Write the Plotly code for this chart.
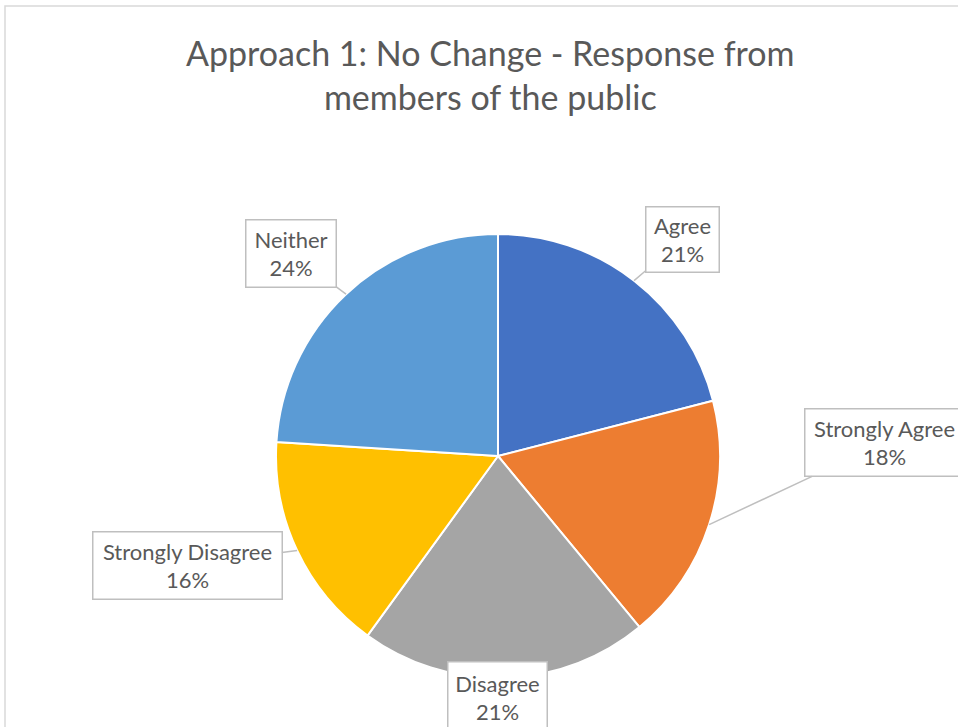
import math
import plotly.graph_objects as go

# ---- data ----
categories = ["Agree", "Strongly Agree", "Disagree", "Strongly Disagree", "Neither"]
values = [21, 18, 21, 16, 24]
colors = ["#4472C4", "#ED7D31", "#A5A5A5", "#FFC000", "#5B9BD5"]
title_text = "Approach 1: No Change - Response from<br>members of the public"

# ---- layout geometry (pixels) ----
W, H = 958, 727
cx, cy, R = 498, 456, 222
# label box offsets from slice-edge anchor (px), box sizes, arrow flag
label_style = {
    "Agree": dict(dx=48, dy=-41, w=72, h=64, arrow=True),
    "Strongly Agree": dict(dx=175, dy=-82, w=158, h=66, arrow=True),
    "Disagree": dict(dx=-7, dy=20, w=98, h=70, arrow=False),
    "Strongly Disagree": dict(dx=-110, dy=15, w=188, h=66, arrow=True),
    "Neither": dict(dx=-55, dy=-41, w=89, h=66, arrow=True),
}

fig = go.Figure()
fig.add_trace(go.Pie(
    labels=categories, values=values, sort=False, direction="clockwise", rotation=0,
    marker=dict(colors=colors, line=dict(color="white", width=2)),
    textinfo="none", hoverinfo="label+percent", showlegend=False,
    domain=dict(x=[(cx - R) / W, (cx + R) / W], y=[1 - (cy + R) / H, 1 - (cy - R) / H]),
))

total = sum(values)
annotations = []
cum = 0
for cat, v in zip(categories, values):
    mid = (cum + v / 2) / total * 2 * math.pi
    cum += v
    px = cx + R * math.sin(mid)
    py = cy - R * math.cos(mid)
    st = label_style[cat]
    pct = round(v / total * 100)
    annotations.append(dict(
        x=px / W, y=1 - py / H, xref="paper", yref="paper",
        text=f"{cat}<br>{pct}%",
        showarrow=True, arrowhead=0, arrowwidth=1.5,
        arrowcolor="#BFBFBF" if st["arrow"] else "rgba(0,0,0,0)",
        ax=st["dx"], ay=st["dy"], standoff=0,
        width=st["w"], height=st["h"],
        bgcolor="white", bordercolor="#BFBFBF", borderwidth=1.5, borderpad=0,
        font=dict(family="Lato", size=22, color="#595959"),
        align="center", valign="middle",
    ))

annotations.append(dict(
    x=490 / W, y=1 - 75 / H, xref="paper", yref="paper", showarrow=False,
    text=title_text, font=dict(family="Lato", size=34, color="#595959"),
    align="center", xanchor="center", yanchor="middle",
))

fig.update_layout(
    width=W, height=H, margin=dict(l=0, r=0, t=0, b=0),
    paper_bgcolor="white", plot_bgcolor="white",
    annotations=annotations,
    shapes=[dict(type="rect", xref="paper", yref="paper",
                 x0=5 / W, x1=1.05, y0=-0.05, y1=1 - 6 / H,
                 line=dict(color="#D9D9D9", width=1.5), layer="below")],
)

fig.write_html("out.html", config={"displayModeBar": False},
               post_script="document.body.style.margin='0';document.body.style.overflow='hidden';")
